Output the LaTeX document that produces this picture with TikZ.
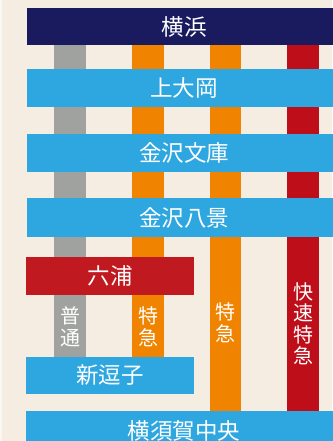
\documentclass[tikz,border=0pt]{standalone}
\usepackage{fontspec}
\setmainfont{Noto Sans CJK JP}
\usepackage{xcolor}
\definecolor{bg}{HTML}{F5EDE1}
\definecolor{navy}{HTML}{1A1B5E}
\definecolor{sky}{HTML}{2EA7E0}
\definecolor{futsu}{HTML}{A0A2A0}
\definecolor{tokkyu}{HTML}{F08300}
\definecolor{kaisoku}{HTML}{BE0E1A}
\definecolor{mutsu}{HTML}{C0191F}

\tikzset{
  station/.style={inner sep=0pt, minimum height=38pt, text=white, font=\fontsize{22.5}{22.5}\selectfont},
  train/.style={inner sep=0pt, align=center, text=white, font=\fontsize{20}{21.5}\selectfont}
}

\begin{document}
\begin{tikzpicture}[x=1pt,y=-1pt]
    % Background
    \fill[bg] (0,0) rectangle (332,441);
    \fill[white!60!bg] (0,0) rectangle (2,441);
    \useasboundingbox (0,0) rectangle (332,441);

    % Lines
    \fill[futsu] (54,40) rectangle (86,357);
    \fill[tokkyu] (132,40) rectangle (164,357);
    \fill[tokkyu] (210,40) rectangle (241,411);
    \fill[kaisoku] (287,40) rectangle (319,411);

    % Stations
    \node[station, fill=navy, minimum width=314pt, minimum height=37pt] (yokohama) at (184,26.5) {横浜};
    \node[station, fill=sky, minimum width=314pt] (kamiooka) at (184,88) {上大岡};
    \node[station, fill=sky, minimum width=314pt] (bunko) at (184,153) {金沢文庫};
    \node[station, fill=sky, minimum width=314pt, minimum height=39pt] (hakkei) at (184,217.5) {金沢八景};
    \node[station, fill=mutsu, minimum width=168pt] (mutsuura) at (110,276) {六浦};
    \node[station, fill=sky, minimum width=168pt, minimum height=37pt] (zushi) at (110,375.5) {新逗子};
    \node[station, fill=sky, minimum width=316pt, minimum height=40pt] (chuo) at (184,431) {横須賀中央};

    % Train types
    \node[train] (futsu) at (70,327) {普\\通};
    \node[train] (tokkyu1) at (148,327) {特\\急};
    \node[train] (tokkyu2) at (225.5,323) {特\\急};
    \node[train] (kaisoku) at (303,324) {快\\速\\特\\急};
\end{tikzpicture}
\end{document}
